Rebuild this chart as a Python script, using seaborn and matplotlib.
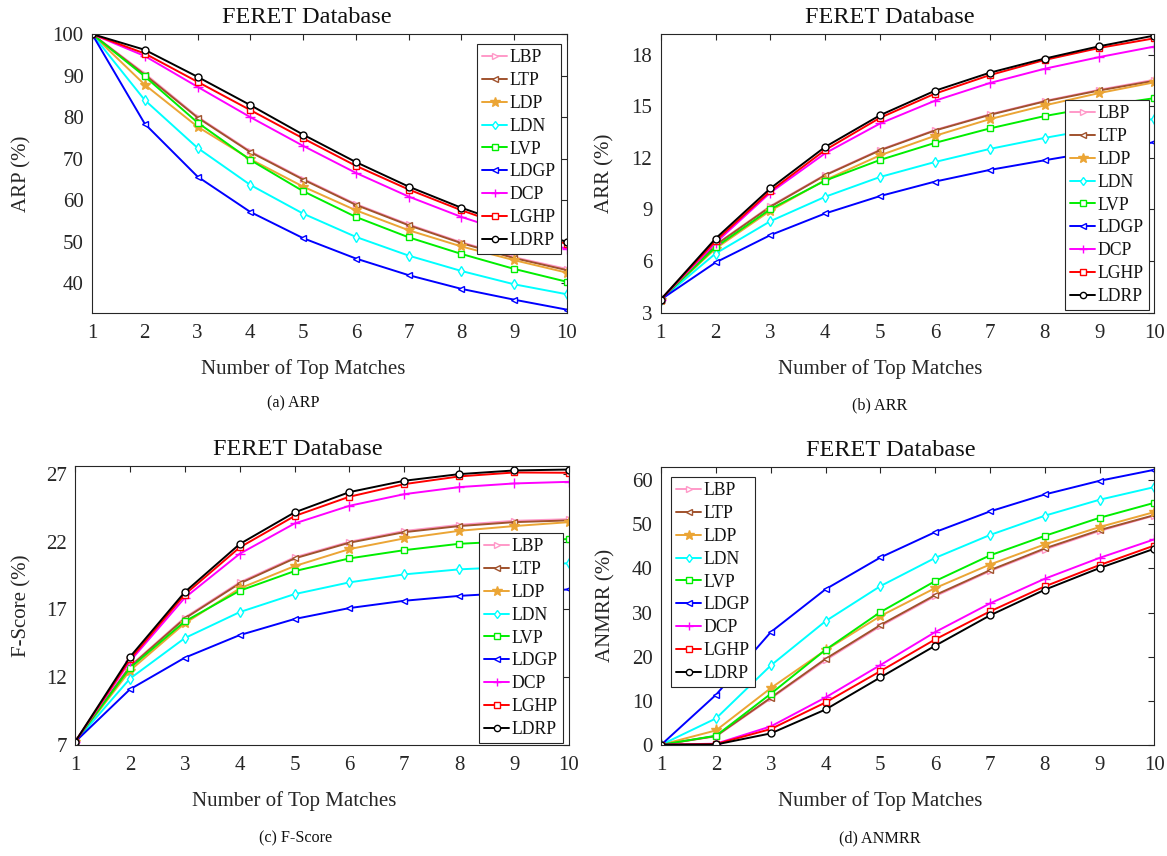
import numpy as np
import pandas as pd
import matplotlib
matplotlib.use("Agg")
import matplotlib.pyplot as plt
import seaborn as sns

# Number of top matches retrieved
top_matches = [1, 2, 3, 4, 5, 6, 7, 8, 9, 10]
methods = ["LBP", "LTP", "LDP", "LDN", "LVP", "LDGP", "DCP", "LGHP", "LDRP"]

# Average retrieval precision (%)
arp = {
    "LBP":  [100, 90.5, 80.1, 71.8, 65.2, 59.1, 54.2, 49.9, 46.3, 43.5],
    "LTP":  [100, 90.2, 79.9, 71.6, 65.0, 58.9, 54.0, 49.7, 46.1, 43.2],
    "LDP":  [100, 87.8, 77.7, 69.9, 63.3, 57.6, 52.8, 48.9, 45.6, 42.6],
    "LDN":  [100, 84.1, 72.6, 63.7, 56.8, 51.2, 46.7, 43.0, 39.8, 37.4],
    "LVP":  [100, 89.8, 78.7, 69.7, 62.2, 56.0, 51.1, 47.1, 43.5, 40.4],
    "LDGP": [100, 78.4, 65.7, 57.2, 50.9, 46.0, 42.0, 38.7, 36.1, 33.7],
    "DCP":  [100, 94.7, 87.3, 80.0, 73.1, 66.6, 60.9, 56.0, 51.9, 48.3],
    "LGHP": [100, 95.3, 88.5, 81.7, 74.9, 68.3, 62.6, 57.6, 53.2, 49.5],
    "LDRP": [100, 96.2, 89.7, 82.9, 75.8, 69.2, 63.3, 58.2, 53.8, 50.0],
}

# Average retrieval rate (%)
arr = {
    "LBP":  [3.76, 6.95, 9.20, 11.02, 12.47, 13.62, 14.53, 15.31, 15.96, 16.54],
    "LTP":  [3.76, 6.93, 9.16, 10.99, 12.44, 13.59, 14.50, 15.28, 15.92, 16.48],
    "LDP":  [3.76, 6.73, 8.93, 10.71, 12.15, 13.28, 14.25, 15.05, 15.77, 16.39],
    "LDN":  [3.76, 6.44, 8.32, 9.74, 10.89, 11.76, 12.52, 13.16, 13.73, 14.27],
    "LVP":  [3.76, 6.81, 9.02, 10.68, 11.88, 12.87, 13.71, 14.43, 15.00, 15.47],
    "LDGP": [3.76, 5.92, 7.51, 8.77, 9.78, 10.62, 11.30, 11.86, 12.40, 12.91],
    "DCP":  [3.76, 7.06, 9.98, 12.27, 14.00, 15.32, 16.35, 17.18, 17.86, 18.47],
    "LGHP": [3.76, 7.18, 10.07, 12.46, 14.33, 15.73, 16.81, 17.69, 18.39, 18.95],
    "LDRP": [3.76, 7.31, 10.23, 12.64, 14.48, 15.90, 16.95, 17.77, 18.49, 19.11],
}

# F-Score (%)
fscore = {
    "LBP":  [7.2, 12.80, 16.40, 19.00, 20.85, 22.00, 22.80, 23.25, 23.55, 23.67],
    "LTP":  [7.2, 12.76, 16.33, 18.92, 20.77, 21.93, 22.71, 23.16, 23.45, 23.58],
    "LDP":  [7.2, 12.47, 15.97, 18.55, 20.20, 21.46, 22.25, 22.81, 23.16, 23.45],
    "LDN":  [7.2, 11.88, 14.88, 16.80, 18.13, 19.00, 19.59, 19.96, 20.15, 20.42],
    "LVP":  [7.2, 12.67, 16.11, 18.38, 19.83, 20.77, 21.38, 21.85, 22.05, 22.20],
    "LDGP": [7.2, 11.09, 13.43, 15.10, 16.29, 17.10, 17.64, 18.00, 18.23, 18.48],
    "DCP":  [7.2, 13.16, 17.86, 21.11, 23.35, 24.66, 25.52, 26.04, 26.31, 26.43],
    "LGHP": [7.2, 13.30, 18.10, 21.58, 23.90, 25.33, 26.26, 26.83, 27.12, 27.10],
    "LDRP": [7.2, 13.48, 18.28, 21.83, 24.17, 25.67, 26.51, 27.00, 27.27, 27.34],
}

# Average normalized modified retrieval rank (%)
anmrr = {
    "LBP":  [0, 1.90, 10.50, 19.20, 26.90, 33.70, 39.40, 44.30, 48.50, 52.00],
    "LTP":  [0, 1.97, 10.67, 19.50, 27.16, 33.96, 39.60, 44.55, 48.70, 52.10],
    "LDP":  [0, 3.25, 12.86, 21.48, 29.20, 35.55, 40.90, 45.46, 49.40, 52.80],
    "LDN":  [0, 5.98, 18.00, 28.06, 36.00, 42.40, 47.60, 51.97, 55.60, 58.47],
    "LVP":  [0, 2.04, 11.57, 21.56, 30.10, 37.14, 42.97, 47.40, 51.50, 54.90],
    "LDGP": [0, 11.35, 25.57, 35.30, 42.50, 48.26, 52.95, 56.80, 59.90, 62.40],
    "DCP":  [0, 0.23, 4.16, 10.74, 18.08, 25.57, 32.07, 37.67, 42.40, 46.60],
    "LGHP": [0, 0.15, 3.56, 9.60, 16.70, 23.90, 30.26, 35.93, 40.77, 45.20],
    "LDRP": [0, 0.05, 2.57, 8.00, 15.28, 22.47, 29.35, 35.17, 40.09, 44.48],
}

colors = {
    "LBP": "#FF99C8", "LTP": "#A0522D", "LDP": "#EBA535", "LDN": "#00FFFF",
    "LVP": "#00EE00", "LDGP": "#0000FF", "DCP": "#FF00FF", "LGHP": "#FF0000",
    "LDRP": "#000000",
}
markers = {
    "LBP": ">", "LTP": "<", "LDP": "*", "LDN": "d", "LVP": "s",
    "LDGP": "<", "DCP": "+", "LGHP": "s", "LDRP": "o",
}

sns.set_theme(style="white")
plt.rcParams["font.family"] = ["Liberation Serif", "DejaVu Serif"]
plt.rcParams["mathtext.fontset"] = "stix"

W, H = 1167, 856
fig = plt.figure(figsize=(W / 100, H / 100), dpi=100)
ink = "#262626"


def frac_rect(left, top, right, bottom):
    return [left / W, 1 - bottom / H, (right - left) / W, (bottom - top) / H]


def long_frame(table):
    rows = []
    for m in methods:
        for k, v in zip(top_matches, table[m]):
            rows.append({"k": k, "value": v, "method": m})
    return pd.DataFrame(rows)


panels = [
    dict(table=arp, rect=(92, 34, 567, 313), ylim=(32.9, 100), yticks=[40, 50, 60, 70, 80, 90, 100],
         ylabel="ARP (%)", ylab_x=22, title_x=0.453, legend=(477, 44), caption="(a) ARP", cap=(293, 403)),
    dict(table=arr, rect=(660.7, 34, 1154.3, 312.7), ylim=(3, 19.2), yticks=[3, 6, 9, 12, 15, 18],
         ylabel="ARR (%)", ylab_x=605, title_x=0.465, legend=(1065, 100), caption="(b) ARR", cap=(880, 405)),
    dict(table=fscore, rect=(75, 466, 569, 744.7), ylim=(7, 27.6), yticks=[7, 12, 17, 22, 27],
         ylabel="F-Score (%)", ylab_x=22, title_x=0.452, legend=(479, 533), caption="(c) F-Score", cap=(296, 838)),
    dict(table=anmrr, rect=(661.3, 466.7, 1154.3, 744.7), ylim=(0, 63.1), yticks=[0, 10, 20, 30, 40, 50, 60],
         ylabel="ANMRR (%)", ylab_x=606, title_x=0.465, legend=(671, 477), caption="(d) ANMRR", cap=(880, 838)),
]

for p in panels:
    left, top, right, bottom = p["rect"]
    ax = fig.add_axes(frac_rect(left, top, right, bottom))
    df = long_frame(p["table"])
    for m in methods:
        sub = df[df["method"] == m]
        face = colors[m] if markers[m] == "*" else "white"
        size = 8 if markers[m] == "*" else (6.5 if markers[m] == "+" else 5)
        sns.lineplot(data=sub, x="k", y="value", ax=ax, color=colors[m], label=m,
                     marker=markers[m], markersize=size, markerfacecolor=face,
                     markeredgecolor=colors[m], markeredgewidth=1.0, linewidth=1.4,
                     legend=False)

    ax.set_xlim(1, 10)
    ax.set_ylim(*p["ylim"])
    ax.set_xticks(top_matches)
    ax.set_yticks(p["yticks"])
    ax.tick_params(axis="both", direction="in", length=4, width=0.8, colors=ink,
                   labelsize=15, top=True, right=True)
    ax.tick_params(axis="x", pad=8)
    ax.tick_params(axis="y", pad=6)
    for s in ax.spines.values():
        s.set_color(ink)
        s.set_linewidth(0.8)
        s.set_visible(True)

    height_px = bottom - top
    width_px = right - left
    ax.set_title("FERET Database", fontsize=17.5, color="#111111", pad=8, x=p["title_x"])
    ax.set_xlabel("Number of Top Matches", fontsize=15, color=ink, va="baseline")
    ax.xaxis.set_label_coords(0.444, -(61.0 / height_px))
    ax.set_ylabel(p["ylabel"], fontsize=15, color=ink, va="center", ha="center")
    ax.yaxis.set_label_coords((p["ylab_x"] - left) / width_px, 0.5)

    handles, labels = ax.get_legend_handles_labels()
    lx, ly = p["legend"]
    leg = ax.legend(handles, labels, loc="upper left", bbox_to_anchor=(lx / W, 1 - ly / H),
                    bbox_transform=fig.transFigure, borderaxespad=0, fontsize=12.7,
                    frameon=True, fancybox=False, framealpha=1, edgecolor=ink,
                    handlelength=1.4, handletextpad=0.15, labelspacing=0.33,
                    borderpad=0.3, markerscale=0.9)
    leg.get_frame().set_linewidth(0.8)
    for t in leg.get_texts():
        t.set_color("#111111")

    fig.text(p["cap"][0] / W, 1 - p["cap"][1] / H, p["caption"], fontsize=11.6,
             color="#111111", ha="center", va="center")

fig.savefig("out.png", dpi=100, facecolor="white")
